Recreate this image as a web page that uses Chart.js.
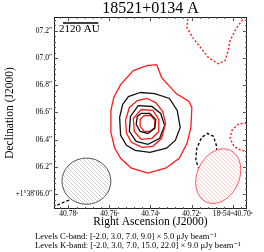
<!DOCTYPE html>
<html><head><meta charset="utf-8">
<script src="https://cdn.jsdelivr.net/npm/chart.js@4.4.0/dist/chart.umd.min.js"></script>
<style>html,body{margin:0;padding:0;background:#fff;}canvas{display:block;}</style>
</head><body>
<canvas id="c" width="264" height="252"></canvas>
<script>
// ---------- data ----------
const chartTitle = '18521+0134 A';
const RA0 = 40.74171;  // reference RA seconds (18h54m)
const DEC0 = 6.527;    // reference Dec arcsec (+1d38')
const DEC_DEG = 1.635;
const raMajor = [40.70, 40.72, 40.74, 40.76, 40.78];
const raLabels = ['18ʰ54ᵐ40.70ˢ', '40.72ˢ', '40.74ˢ', '40.76ˢ', '40.78ˢ'];
const decMajor = [6.0, 6.2, 6.4, 6.6, 6.8, 7.0, 7.2];
const decLabels = ['+1°38′06.0″', '06.2″', '06.4″', '06.6″', '06.8″', '07.0″', '07.2″'];
const raRange = [40.69293, 40.78707];
const decRange = [5.8903, 7.3021];
const raMinorStep = 0.004;
const decMinorStep = 0.04;

// contour offsets from reference, milliarcsec [dRA(east+), dDec]
const kPos3 = [[-71,425],[-107,329],[-214,212],[-307,154],[-328,110],[-321,-37],[-293,-154],[-236,-264],[-136,-337],[-7,-373],[114,-337],[193,-264],[236,-190],[264,-73],[264,88],[243,183],[193,278],[100,381],[0,417]];
const kPos7 = [[0,176],[-64,146],[-114,81],[-136,-7],[-107,-117],[-43,-176],[36,-183],[114,-146],[150,-81],[157,15],[129,110],[71,161]];
const kPos15 = [[43,95],[-43,88],[-86,22],[-86,-66],[-36,-117],[43,-124],[93,-66],[100,29]];
const kPos22 = [[21,51],[-29,51],[-57,15],[-57,-37],[-21,-66],[21,-66],[50,-29],[50,22]];
const kNegTop = [[-300,791],[-293,695],[-336,622],[-393,549],[-450,476],[-521,432],[-571,454],[-593,527],[-607,600],[-650,688],[-693,747],[-728,791]];
const kNegRight = [[-728,0],[-664,-15],[-621,-59],[-607,-117],[-636,-176],[-686,-205],[-728,-212]];
const cPos3 = [[50,220],[-57,212],[-164,176],[-221,88],[-243,-37],[-207,-132],[-143,-190],[-21,-220],[86,-205],[150,-168],[193,-95],[200,37],[178,132],[136,190]];
const cPos7 = [[64,124],[-36,117],[-100,66],[-129,-22],[-93,-117],[-7,-161],[79,-139],[129,-66],[121,44]];
const cPos9 = [[43,66],[-21,66],[-64,22],[-57,-44],[-7,-81],[50,-66],[79,-15],[71,44]];
const cNegRight = [[-400,-380],[-378,-337],[-357,-278],[-364,-190],[-400,-110],[-443,-81],[-486,-102],[-507,-168],[-514,-242],[-516,-300]];
const cNegCorner = [[657,-608],[607,-586],[550,-564],[493,-542]];

// beams: centre offsets (mas), FWHM (arcsec), PA (deg, E of N)
const beamC = {dx: 443, dy: -432, bmaj: 0.36, bmin: 0.34, pa: 90};
const beamK = {dx: -521, dy: -395, bmaj: 0.42, bmin: 0.31, pa: -25};

const scaleBarAU = 2120;
const scaleBarArcsec = 0.26;
const levelsText = [
  'Levels C-band: [-2.0, 3.0, 7.0, 9.0] × 5.0 μJy beam⁻¹',
  'Levels K-band: [-2.0, 3.0, 7.0, 15.0, 22.0] × 9.0 μJy beam⁻¹'
];

// ---------- helpers ----------
const SERIF = '"Liberation Serif", "DejaVu Serif", serif';
const raPerArcsec = 1 / (15 * Math.cos(DEC_DEG * Math.PI / 180));
function toXY(arr, closed) {
  const pts = arr.map(([dx, dy]) => ({x: RA0 + dx / 1000 * raPerArcsec, y: DEC0 + dy / 1000}));
  if (closed) pts.push(pts[0]);
  return pts;
}
function range(a, b, step) {
  const out = [];
  const n = Math.round((b - a) / step);
  for (let i = 0; i <= n; i++) out.push(+(a + i * step).toFixed(6));
  return out;
}
const raTicks = range(40.692, 40.788, raMinorStep).filter(v => v >= raRange[0] && v <= raRange[1]);
const decTicks = range(5.88, 7.32, decMinorStep).filter(v => v >= decRange[0] && v <= decRange[1]);
const isMajor = (v, majors) => majors.findIndex(m => Math.abs(m - v) < 1e-6);

const RED = 'rgb(255,25,25)';
const BLK = '#111';
function ds(pts, color, dashed, closed) {
  return {
    data: toXY(pts, closed), showLine: true, borderColor: color, backgroundColor: color,
    borderWidth: dashed ? 1.4 : 1.3, borderDash: dashed ? (color === RED ? [2, 2] : [3, 2]) : [],
    pointRadius: 0, tension: 0, fill: false
  };
}
const datasets = [
  ds(kPos3, RED, false, true), ds(cPos3, BLK, false, true), ds(kPos7, RED, false, true),
  ds(cPos7, BLK, false, true), ds(kPos15, RED, false, true), ds(cPos9, BLK, false, true),
  ds(kPos22, RED, false, true),
  ds(kNegTop, RED, true, false), ds(kNegRight, RED, true, false),
  ds(cNegRight, BLK, true, false), ds(cNegCorner, BLK, true, false)
];

function hatch(color) {
  const c = document.createElement('canvas');
  c.width = 4; c.height = 4;
  const g = c.getContext('2d');
  g.strokeStyle = color; g.lineWidth = 0.7;
  g.beginPath();
  g.moveTo(0, 0); g.lineTo(4, 4);
  g.moveTo(-1, 3); g.lineTo(1, 5);
  g.moveTo(3, -1); g.lineTo(5, 1);
  g.stroke();
  return c;
}

const overlay = {
  id: 'overlay',
  afterDatasetsDraw(chart) {
    const {ctx, chartArea: a, scales: {x, y}} = chart;
    const pxPerArcsec = Math.abs(y.getPixelForValue(DEC0 + 1) - y.getPixelForValue(DEC0));
    ctx.save();
    ctx.beginPath(); ctx.rect(a.left, a.top, a.right - a.left, a.bottom - a.top); ctx.clip();
    [[beamC, '#555', '#bbbbbb'], [beamK, 'rgb(255,90,90)', 'rgb(255,180,180)']].forEach(([b, stroke, fillc]) => {
      const p = toXY([[b.dx, b.dy]])[0];
      const cx = x.getPixelForValue(p.x), cy = y.getPixelForValue(p.y);
      const rMaj = b.bmaj / 2 * pxPerArcsec, rMin = b.bmin / 2 * pxPerArcsec;
      ctx.beginPath();
      ctx.ellipse(cx, cy, rMin, rMaj, -b.pa * Math.PI / 180, 0, Math.PI * 2);
      ctx.fillStyle = '#fff'; ctx.fill();
      ctx.fillStyle = ctx.createPattern(hatch(fillc), 'repeat'); ctx.fill();
      ctx.strokeStyle = stroke; ctx.lineWidth = 1; ctx.stroke();
    });
    ctx.restore();
  },
  afterDraw(chart) {
    const {ctx, chartArea: a, scales: {x, y}} = chart;
    ctx.save();
    ctx.strokeStyle = '#222'; ctx.lineWidth = 1;
    ctx.strokeRect(a.left + 0.5, a.top + 0.5, a.right - a.left - 1, a.bottom - a.top - 1);
    ctx.strokeStyle = '#555';
    ctx.beginPath();
    raTicks.forEach(v => {
      const L = isMajor(v, raMajor) >= 0 ? 4 : 2;
      const px = Math.round(x.getPixelForValue(v)) + 0.5;
      ctx.moveTo(px, a.bottom); ctx.lineTo(px, a.bottom - L);
      ctx.moveTo(px, a.top); ctx.lineTo(px, a.top + L);
    });
    decTicks.forEach(v => {
      const L = isMajor(v, decMajor) >= 0 ? 4 : 2;
      const py = Math.round(y.getPixelForValue(v)) + 0.5;
      ctx.moveTo(a.left, py); ctx.lineTo(a.left + L, py);
      ctx.moveTo(a.right, py); ctx.lineTo(a.right - L, py);
    });
    ctx.stroke();
    // scale bar
    const pxPerArcsec = Math.abs(y.getPixelForValue(DEC0 + 1) - y.getPixelForValue(DEC0));
    const x0 = a.left + 9, len = scaleBarArcsec * pxPerArcsec;
    ctx.strokeStyle = '#000'; ctx.lineWidth = 1.3;
    ctx.beginPath(); ctx.moveTo(x0, a.top + 6); ctx.lineTo(x0 + len, a.top + 6); ctx.stroke();
    ctx.fillStyle = '#000';
    ctx.font = '11px ' + SERIF;
    ctx.textAlign = 'left'; ctx.textBaseline = 'middle';
    ctx.fillText(scaleBarAU + ' AU', a.left + 5, a.top + 12);
    // levels
    ctx.font = '8.6px ' + SERIF;
    ctx.fillText(levelsText[0], 35, 236.5);
    ctx.fillText(levelsText[1], 35, 246);
    ctx.restore();
  }
};

new Chart(document.getElementById('c'), {
  type: 'scatter',
  data: {datasets},
  options: {
    responsive: false, animation: false, devicePixelRatio: 1,
    layout: {padding: {left: 0, right: 17, top: 0, bottom: 0}},
    plugins: {
      legend: {display: false}, tooltip: {enabled: false},
      title: {display: true, text: chartTitle, fullSize: false, color: '#000',
        font: {family: SERIF, size: 16, weight: 'normal', lineHeight: 1.0}, padding: {top: 1, bottom: 0}}
    },
    scales: {
      x: {
        type: 'linear', reverse: true, min: raRange[0], max: raRange[1],
        afterBuildTicks: s => { s.ticks = raTicks.map(v => ({value: v})); },
        afterFit: s => { s.height = 43; },
        grid: {display: false, drawTicks: false}, border: {display: false},
        ticks: {autoSkip: false, maxRotation: 0, minRotation: 0, padding: 1, color: '#000',
          font: {family: SERIF, size: 7.5},
          callback: v => { const i = isMajor(v, raMajor); return i >= 0 ? raLabels[i] : ''; }},
        title: {display: true, text: 'Right Ascension (J2000)', color: '#000',
          font: {family: SERIF, size: 11.5}, padding: {top: 0, bottom: 23}}
      },
      y: {
        type: 'linear', min: decRange[0], max: decRange[1],
        afterBuildTicks: s => { s.ticks = decTicks.map(v => ({value: v})); },
        afterFit: s => { s.width = 54; },
        grid: {display: false, drawTicks: false}, border: {display: false},
        ticks: {autoSkip: false, padding: 2, color: '#000',
          font: {family: SERIF, size: 7.5},
          callback: v => { const i = isMajor(v, decMajor); return i >= 0 ? decLabels[i] : ''; }},
        title: {display: true, text: 'Declination (J2000)', color: '#000',
          font: {family: SERIF, size: 11.5}, padding: {top: 3, bottom: 0}}
      }
    }
  },
  plugins: [overlay]
});
</script>
</body></html>
